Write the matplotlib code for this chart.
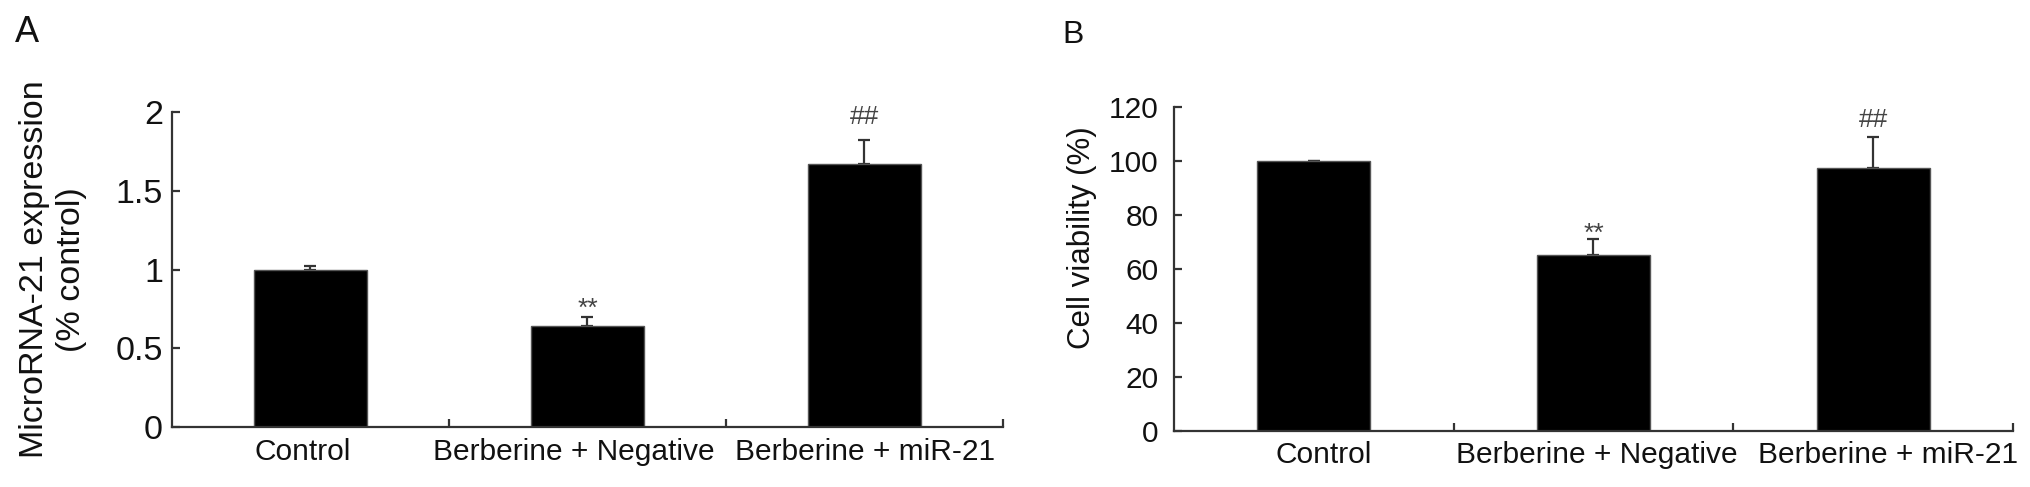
import matplotlib
matplotlib.use("Agg")
import matplotlib.pyplot as plt
import matplotlib.transforms as mtransforms
import numpy as np

plt.rcParams['font.family'] = ['Liberation Sans', 'DejaVu Sans']

categories = ["Control", "Berberine + Negative", "Berberine + miR-21"]

mirna_values = [1.00, 0.64, 1.67]
mirna_errors = [0.02, 0.06, 0.15]
mirna_marks = ["", "**", "##"]
mirna_yticks = [0, 0.5, 1, 1.5, 2]
mirna_yticklabels = ["0", "0.5", "1", "1.5", "2"]

viability_values = [100.0, 65.2, 97.4]
viability_errors = [0.0, 5.9, 11.5]
viability_marks = ["", "**", "##"]
viability_yticks = [0, 20, 40, 60, 80, 100, 120]
viability_yticklabels = ["0", "20", "40", "60", "80", "100", "120"]

W, H = 2031, 487
fig = plt.figure(figsize=(W / 100, H / 100), dpi=100)

axc = '#333333'
txtc = '#111111'


def panel(rect, values, errors, marks, yticks, yticklabels, ylim, ylabel,
          ytick_fs, ytick_pad, xtick_pad, ylabel_fs, ylabel_xy, mark_offsets,
          label_shifts):
    ax = fig.add_axes(rect)
    x = np.arange(len(categories))
    ax.bar(x, values, width=0.405, color='black', edgecolor='#555555',
           linewidth=1.0, zorder=2)
    err_lo = np.zeros(len(errors))
    ax.errorbar(x, values, yerr=[err_lo, errors], fmt='none', ecolor=axc,
                elinewidth=1.6, capsize=4.5, capthick=1.6, zorder=1)
    for xi, v, e, m, off in zip(x, values, errors, marks, mark_offsets):
        if m:
            ax.annotate(m, xy=(xi, v + e), xytext=(0, off),
                        textcoords='offset points', ha='center',
                        va='baseline', fontsize=19, color='#444444')
    ax.set_xlim(-0.5, 2.5)
    ax.set_ylim(*ylim)
    for s in ['top', 'right']:
        ax.spines[s].set_visible(False)
    for s in ['left', 'bottom']:
        ax.spines[s].set_color(axc)
        ax.spines[s].set_linewidth(1.6)
    ax.set_yticks(yticks)
    ax.set_yticklabels(yticklabels)
    ax.set_xticks(x)
    ax.set_xticklabels(categories)
    ax.set_xticks([0.5, 1.5, 2.5], minor=True)
    ax.tick_params(axis='x', which='major', length=0, pad=xtick_pad,
                   labelsize=21.5, labelcolor=txtc)
    ax.tick_params(axis='x', which='minor', direction='in', length=6,
                   width=1.6, color=axc)
    ax.tick_params(axis='y', which='major', direction='in', length=6,
                   width=1.6, color=axc, pad=ytick_pad, labelsize=ytick_fs,
                   labelcolor=txtc)
    for lab, dx in zip(ax.get_xticklabels(), label_shifts):
        lab.set_transform(lab.get_transform() + mtransforms.ScaledTranslation(
            dx / 100, 0, fig.dpi_scale_trans))
    ax.set_ylabel(ylabel, fontsize=ylabel_fs, color=txtc, linespacing=1.25)
    ax.yaxis.label.set_va('center')
    ax.yaxis.set_label_coords(*ylabel_xy)
    return ax


axA = panel([172 / W, 1 - 427 / H, 831 / W, 315 / H],
            mirna_values, mirna_errors, mirna_marks,
            mirna_yticks, mirna_yticklabels, (0, 2),
            "MicroRNA-21 expression\n(% control)",
            24.5, 6.5, 8, 24.5, (-0.143, 0.5), [0, 1, 12], [-8, -14, 1])

axB = panel([1174 / W, 1 - 431 / H, 839 / W, 324 / H],
            viability_values, viability_errors, viability_marks,
            viability_yticks, viability_yticklabels, (0, 120),
            "Cell viability (%)",
            21.5, 11, 7, 22.5, (-0.11, 0.596), [0, -1, 7], [10, 3, 15])

fig.text(15 / W, 1 - 42 / H, "A", fontsize=26, color=txtc, va='baseline',
         ha='left')
fig.text(1062 / W, 1 - 43 / H, "B", fontsize=23, color=txtc, va='baseline',
         ha='left')

fig.savefig("out.png", dpi=100, facecolor='white')
